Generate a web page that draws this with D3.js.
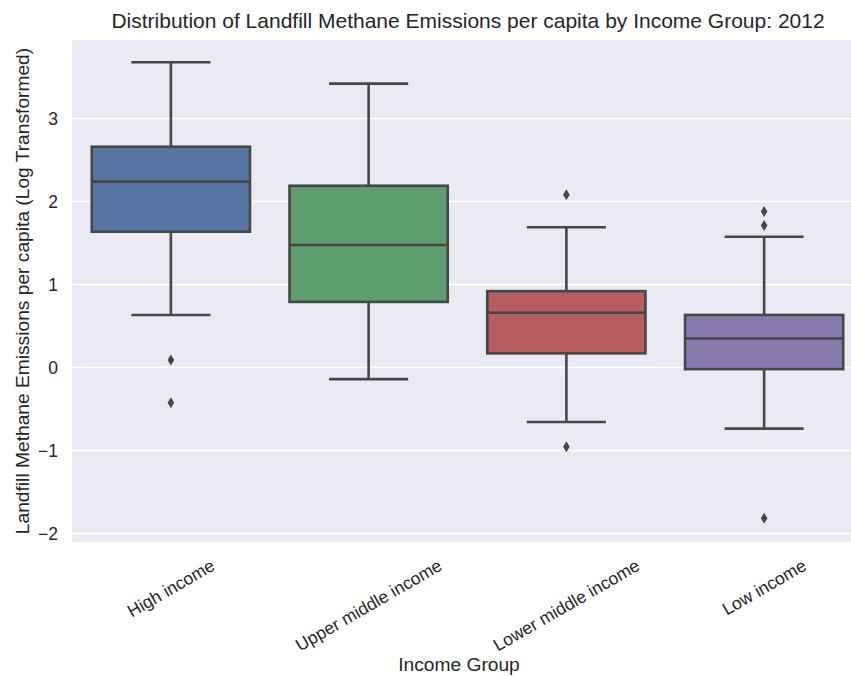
<!DOCTYPE html>
<html>
<head>
<meta charset="utf-8">
<script src="https://cdn.jsdelivr.net/npm/d3@7"></script>
<style>
  html, body { margin: 0; padding: 0; background: #ffffff; }
  svg { display: block; }
  text { font-family: "Liberation Sans", Arial, "DejaVu Sans", sans-serif; fill: #262626; }
</style>
</head>
<body>
<svg id="chart" width="851" height="676"></svg>
<script>
// ---- Data ----
const categories = ["High income", "Upper middle income", "Lower middle income", "Low income"];
const whiskerLow  = [0.633, -0.14, -0.657, -0.737];
const q1          = [1.636, 0.79, 0.17, -0.02];
const median      = [2.24, 1.476, 0.66, 0.35];
const q3          = [2.66, 2.19, 0.92, 0.633];
const whiskerHigh = [3.677, 3.42, 1.69, 1.576];
const outliers    = [[0.09, -0.424], [], [2.08, -0.954], [1.88, 1.71, -1.817]];
const colors      = ["#5875a4", "#5f9e6e", "#b55d60", "#857aab"];
const yTicks      = [-2, -1, 0, 1, 2, 3];

const titleText = "Distribution of Landfill Methane Emissions per capita by Income Group: 2012";
const xLabel = "Income Group";
const yLabel = "Landfill Methane Emissions per capita (Log Transformed)";

// ---- Layout ----
const svg = d3.select("#chart");
const plot = { left: 72, right: 863, top: 40, bottom: 542 };
const lineColor = "#474747";
const tickFs = 17.5, labelFs = 19.2, titleFs = 21;

const x = d3.scaleBand().domain(categories).range([plot.left, plot.right]).paddingInner(0).paddingOuter(0);
const y = d3.scaleLinear().domain([-2.103, 3.946]).range([plot.bottom, plot.top]);

// background
svg.append("rect")
  .attr("x", plot.left).attr("y", plot.top)
  .attr("width", plot.right - plot.left).attr("height", plot.bottom - plot.top)
  .attr("fill", "#EAEAF2");

// grid lines
svg.append("g").selectAll("line").data(yTicks).join("line")
  .attr("x1", plot.left).attr("x2", plot.right)
  .attr("y1", d => y(d)).attr("y2", d => y(d))
  .attr("stroke", "#ffffff").attr("stroke-width", 1.6);

// y axis labels
const yAxis = d3.axisLeft(y).tickValues(yTicks).tickSize(0).tickPadding(14)
  .tickFormat(d => d < 0 ? "\u2212" + Math.abs(d) : String(d));
const yg = svg.append("g").attr("transform", `translate(${plot.left},0)`).call(yAxis);
yg.select(".domain").remove();
yg.selectAll("text").attr("font-size", tickFs).style("fill", "#262626")
  .style("font-family", "'Liberation Sans', Arial, sans-serif");

// boxes
const bw = x.bandwidth() * 0.8;
const capW = bw * 0.5;
const g = svg.append("g");
categories.forEach((c, i) => {
  const cx = x(c) + x.bandwidth() / 2;
  g.append("line").attr("x1", cx).attr("x2", cx).attr("y1", y(q3[i])).attr("y2", y(whiskerHigh[i]))
    .attr("stroke", lineColor).attr("stroke-width", 2.6);
  g.append("line").attr("x1", cx).attr("x2", cx).attr("y1", y(q1[i])).attr("y2", y(whiskerLow[i]))
    .attr("stroke", lineColor).attr("stroke-width", 2.6);
  [whiskerHigh[i], whiskerLow[i]].forEach(v => {
    g.append("line").attr("x1", cx - capW / 2).attr("x2", cx + capW / 2).attr("y1", y(v)).attr("y2", y(v))
      .attr("stroke", lineColor).attr("stroke-width", 2.6);
  });
  g.append("rect").attr("x", cx - bw / 2).attr("y", y(q3[i]))
    .attr("width", bw).attr("height", y(q1[i]) - y(q3[i]))
    .attr("fill", colors[i]).attr("stroke", lineColor).attr("stroke-width", 2.6);
  g.append("line").attr("x1", cx - bw / 2).attr("x2", cx + bw / 2).attr("y1", y(median[i])).attr("y2", y(median[i]))
    .attr("stroke", lineColor).attr("stroke-width", 2.6);
  outliers[i].forEach(v => {
    g.append("path")
      .attr("d", `M${cx},${y(v) - 5.5} L${cx + 3.3},${y(v)} L${cx},${y(v) + 5.5} L${cx - 3.3},${y(v)} Z`)
      .attr("fill", lineColor);
  });
});

// x tick labels rotated 30deg, centred on the tick, bbox top at fixed y
const labelTop = 556;
categories.forEach(c => {
  const cx = x(c) + x.bandwidth() / 2;
  const t = svg.append("text").text(c).attr("font-size", tickFs).attr("text-anchor", "middle")
    .attr("dominant-baseline", "central");
  const w = t.node().getComputedTextLength();
  const h = tickFs * 1.05;
  const bh = w * Math.sin(Math.PI / 6) + h * Math.cos(Math.PI / 6);
  const cy = labelTop + bh / 2;
  t.attr("transform", `translate(${cx},${cy}) rotate(-30)`);
});

// axis titles
svg.append("text").text(xLabel).attr("x", 459).attr("y", 671)
  .attr("text-anchor", "middle").attr("font-size", labelFs);
svg.append("text").text(yLabel)
  .attr("transform", `translate(29,${(plot.top + plot.bottom) / 2}) rotate(-90)`)
  .attr("text-anchor", "middle").attr("font-size", labelFs);

// title
svg.append("text").text(titleText).attr("x", 468).attr("y", 28)
  .attr("text-anchor", "middle").attr("font-size", titleFs);
</script>
</body>
</html>
